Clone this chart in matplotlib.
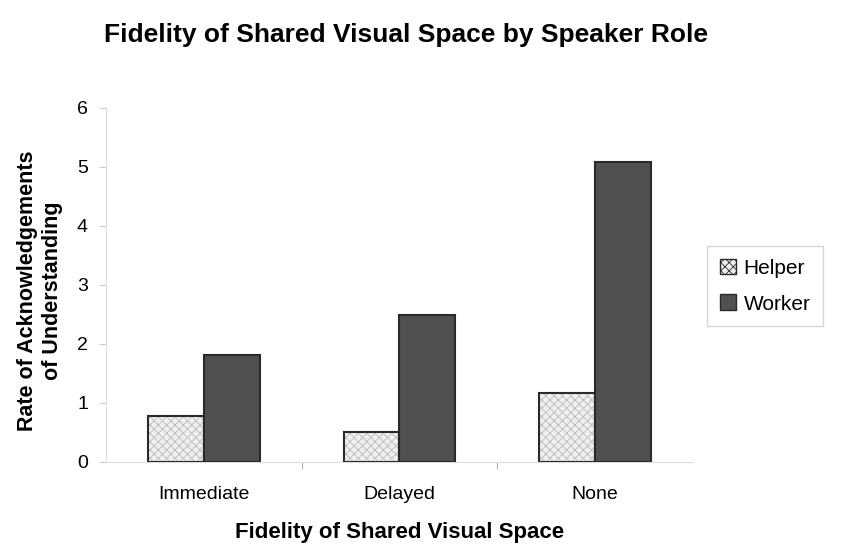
import matplotlib
matplotlib.use("Agg")
import matplotlib.pyplot as plt
import numpy as np
from matplotlib.patches import Patch

categories = ["Immediate", "Delayed", "None"]
helper = [0.78, 0.50, 1.17]
worker = [1.81, 2.49, 5.08]
series_names = ["Helper", "Worker"]
yticks = [0, 1, 2, 3, 4, 5, 6]

plt.rcParams['font.family'] = ['Liberation Sans', 'DejaVu Sans']
plt.rcParams['hatch.linewidth'] = 0.6

fig = plt.figure(figsize=(8.41, 5.48), dpi=100)
ax = fig.add_axes([0.126, 0.157, 0.698, 0.646])

x = np.arange(len(categories))
w = 0.286
ax.bar(x - w/2, helper, w, color='#efefef', edgecolor='#bbbbbb', hatch='xxxx', linewidth=0, zorder=2)
ax.bar(x - w/2, helper, w, facecolor='none', edgecolor='#2a2a2a', linewidth=1.5, zorder=3)
ax.bar(x + w/2, worker, w, color='#505050', edgecolor='#2a2a2a', linewidth=1.5, zorder=3)

ax.set_xlim(-0.5, 2.5)
ax.set_ylim(0, 6)
ax.set_yticks(yticks)
ax.set_xticks(x)
ax.set_xticklabels(categories, fontsize=14)
ax.tick_params(axis='x', length=0, pad=17)
ax.set_xticks([0.5, 1.5], minor=True)
ax.tick_params(axis='x', which='minor', length=5, color='#999999', direction='out')
ax.tick_params(axis='y', length=5, color='#cccccc', labelsize=14, pad=8)
for s in ['top', 'right']:
    ax.spines[s].set_visible(False)
ax.spines['left'].set_color('#dddddd')
ax.spines['bottom'].set_color('#dddddd')

ax.set_ylabel("Rate of Acknowledgements\nof Understanding", fontsize=15.5, fontweight='bold', linespacing=1.25)
ax.yaxis.set_label_coords(-0.112, 0.485)
ax.yaxis.label.set_va('center')
ax.set_xlabel("Fidelity of Shared Visual Space", fontsize=16, fontweight='bold')
ax.xaxis.set_label_coords(0.5, -0.2)
ax.xaxis.label.set_va('center')
fig.text(0.483, 0.937, "Fidelity of Shared Visual Space by Speaker Role", ha='center', va='center',
         fontsize=19, fontweight='bold')

handles = [Patch(facecolor='#efefef', edgecolor='#2a2a2a', hatch='xxxx', linewidth=1),
           Patch(facecolor='#505050', edgecolor='#2a2a2a', linewidth=1)]
fig.legend(handles, series_names, loc='center left', bbox_to_anchor=(0.841, 0.478),
           fontsize=15, frameon=True, fancybox=False, edgecolor='#cccccc',
           handlelength=0.8, handleheight=0.8, handletextpad=0.35, labelspacing=0.8, borderpad=0.6,
           borderaxespad=0)

fig.savefig("out.png", dpi=100)
